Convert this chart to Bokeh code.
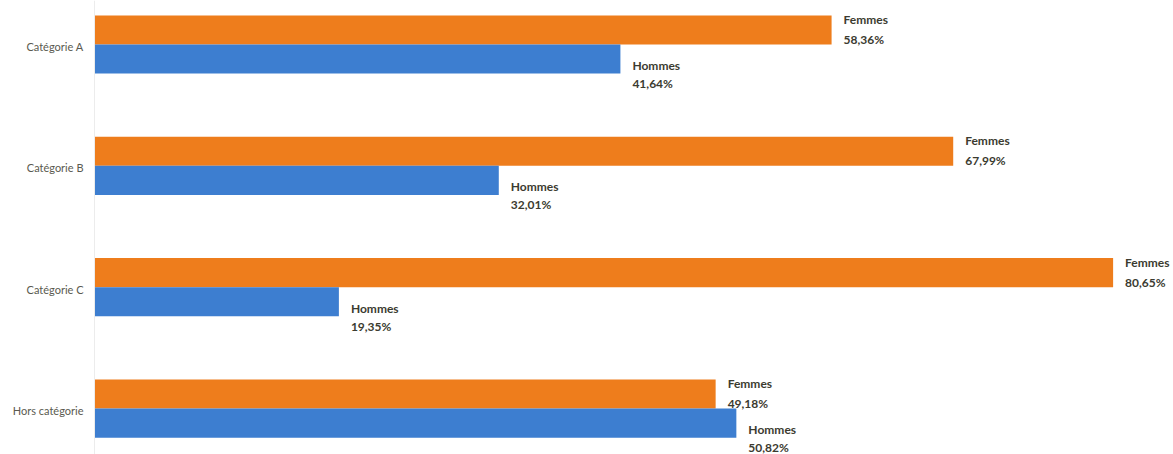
from bokeh.plotting import figure
from bokeh.models import ColumnDataSource, Range1d, Span
from bokeh.core.properties import value
from bokeh.embed import file_html
from bokeh.resources import INLINE

categories = ["Catégorie A", "Catégorie B", "Catégorie C", "Hors catégorie"]
femmes = [58.36, 67.99, 80.65, 49.18]
hommes = [41.64, 32.01, 19.35, 50.82]
femmes_labels = ["58,36%", "67,99%", "80,65%", "49,18%"]
hommes_labels = ["41,64%", "32,01%", "19,35%", "50,82%"]

rows = list(range(len(categories)))
px_per_unit_x = 12.63
bar_h = 0.24

p = figure(width=1173, height=454, output_backend="svg", toolbar_location=None,
           x_range=Range1d(-94 / px_per_unit_x, (1173 - 94) / px_per_unit_x),
           y_range=Range1d(3.379, -0.3626), min_border=0)
p.axis.visible = False
p.grid.visible = False
p.outline_line_color = None
p.background_fill_color = "white"
p.border_fill_color = "white"

p.add_layout(Span(location=0, dimension="height", line_color="#ececec", line_width=1))

src = ColumnDataSource(dict(
    row=rows, cat=categories, f=femmes, h=hommes,
    fl=femmes_labels, hl=hommes_labels,
    f_top=[r - bar_h for r in rows], h_bot=[r + bar_h for r in rows],
    fx=[v + 0.95 for v in femmes], hx=[v + 0.95 for v in hommes],
    fname=["Femmes"] * 4, hname=["Hommes"] * 4,
))

p.quad(left=0, right="f", top="f_top", bottom="row", source=src,
       fill_color="#EE7D1C", line_color=None)
p.quad(left=0, right="h", top="row", bottom="h_bot", source=src,
       fill_color="#3D7ED0", line_color=None)

font = value("Lato")
common = dict(text_font=font, text_font_size="12px", text_font_style="bold",
              text_color="#3b3b30", text_baseline="middle", text_align="left")
p.text(x="fx", y="row", text="fname", y_offset=-25, source=src, **common)
p.text(x="fx", y="row", text="fl", y_offset=-5, source=src, **common)
p.text(x="hx", y="row", text="hname", y_offset=21, source=src, **common)
p.text(x="hx", y="row", text="hl", y_offset=39, source=src, **common)

p.text(x=-11 / px_per_unit_x, y="row", text="cat", source=src, text_font=font,
       text_font_size="11px", text_color="#5a5a50", text_baseline="middle",
       text_align="right", y_offset=2)

open("out.html", "w").write(file_html(p, INLINE))
